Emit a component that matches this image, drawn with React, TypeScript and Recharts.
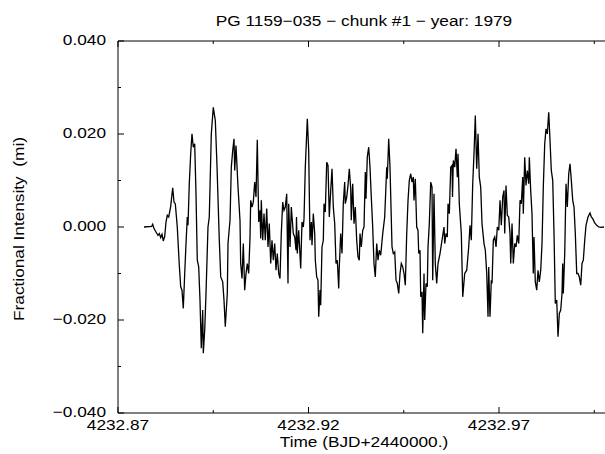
import React from "react";
import { LineChart, Line, XAxis, YAxis } from "recharts";

const title = "PG 1159\u2212035 \u2212 chunk #1 \u2212 year: 1979";
const xTitle = "Time (BJD+2440000.)";
const yTitle = "Fractional Intensity  (mi)";

const xDomain = [4232.87, 4233.0];
const xTicks = [4232.87, 4232.895, 4232.92, 4232.945, 4232.97, 4232.995];
const xLabelled = [4232.87, 4232.92, 4232.97];
const yDomain = [-0.04, 0.04];
const yTicks = [-0.04, -0.03, -0.02, -0.01, 0, 0.01, 0.02, 0.03, 0.04];
const yLabelled = [-0.04, -0.02, 0, 0.02, 0.04];

// BJD - 2440000
const time = [
  4232.87682, 4232.87885, 4232.87911, 4232.87945, 4232.87997, 4232.8805, 4232.88084, 4232.88121,
  4232.88155, 4232.88189, 4232.88226, 4232.8826, 4232.88294, 4232.88331, 4232.88383, 4232.88436,
  4232.8847, 4232.88504, 4232.88556, 4232.88609, 4232.88646, 4232.8868, 4232.88714, 4232.88751,
  4232.88785, 4232.88819, 4232.88837, 4232.88871, 4232.88908, 4232.88942, 4232.88976, 4232.89013,
  4232.89047, 4232.89081, 4232.89118, 4232.89152, 4232.89186, 4232.89223, 4232.89239, 4232.89276,
  4232.8931, 4232.89362, 4232.89396, 4232.89449, 4232.89501, 4232.89554, 4232.89598, 4232.89659,
  4232.89696, 4232.89748, 4232.89782, 4232.89816, 4232.89869, 4232.89887, 4232.8994, 4232.89974,
  4232.90011, 4232.90045, 4232.90063, 4232.90097, 4232.9015, 4232.90202, 4232.9022, 4232.90255,
  4232.90289, 4232.90325, 4232.9036, 4232.90394, 4232.9043, 4232.90465, 4232.90483, 4232.90517,
  4232.90551, 4232.90588, 4232.90622, 4232.90656, 4232.90693, 4232.90727, 4232.90746, 4232.90761,
  4232.90798, 4232.90832, 4232.90866, 4232.90903, 4232.90937, 4232.90971, 4232.91008, 4232.91042,
  4232.91076, 4232.91113, 4232.91147, 4232.91181, 4232.91218, 4232.91252, 4232.91286, 4232.91323,
  4232.91357, 4232.91391, 4232.91428, 4232.91462, 4232.9148, 4232.91515, 4232.91549, 4232.91601,
  4232.91638, 4232.91672, 4232.91685, 4232.91706, 4232.91743, 4232.91795, 4232.91829, 4232.91864,
  4232.91882, 4232.91916, 4232.91969, 4232.92005, 4232.92039, 4232.92074, 4232.92092, 4232.92126,
  4232.92163, 4232.92179, 4232.92215, 4232.92249, 4232.92268, 4232.92302, 4232.9232, 4232.92354,
  4232.92389, 4232.92407, 4232.92441, 4232.92478, 4232.92512, 4232.92546, 4232.92583, 4232.92617,
  4232.92651, 4232.92688, 4232.92722, 4232.92756, 4232.92793, 4232.92808, 4232.92845, 4232.92879,
  4232.92913, 4232.9295, 4232.92966, 4232.93003, 4232.93037, 4232.93071, 4232.93108, 4232.93123,
  4232.9316, 4232.93194, 4232.93228, 4232.93265, 4232.93299, 4232.93333, 4232.93352, 4232.93386,
  4232.93423, 4232.93457, 4232.93491, 4232.93509, 4232.93543, 4232.9358, 4232.93614, 4232.93648,
  4232.93685, 4232.93719, 4232.93753, 4232.9379, 4232.93824, 4232.93858, 4232.93895, 4232.93948,
  4232.94, 4232.94053, 4232.94068, 4232.94105, 4232.94139, 4232.94192, 4232.94226, 4232.94263,
  4232.94297, 4232.94331, 4232.94368, 4232.94402, 4232.94436, 4232.94473, 4232.94507, 4232.94541,
  4232.94578, 4232.94612, 4232.94646, 4232.94683, 4232.94717, 4232.94751, 4232.94769, 4232.94803,
  4232.9484, 4232.94874, 4232.94893, 4232.94927, 4232.94945, 4232.94979, 4232.94998, 4232.95032,
  4232.9505, 4232.95084, 4232.95118, 4232.95137, 4232.95171, 4232.95208, 4232.95242, 4232.9526,
  4232.95294, 4232.95328, 4232.95365, 4232.95399, 4232.95452, 4232.95504, 4232.95557, 4232.95575,
  4232.95609, 4232.95643, 4232.95662, 4232.95696, 4232.95733, 4232.95767, 4232.9578, 4232.95801,
  4232.95838, 4232.95872, 4232.95906, 4232.95924, 4232.95958, 4232.96011, 4232.96048, 4232.961,
  4232.96153, 4232.96205, 4232.96239, 4232.96273, 4232.9631, 4232.96344, 4232.96378, 4232.96415,
  4232.96449, 4232.96483, 4232.9652, 4232.96554, 4232.96607, 4232.96641, 4232.96678, 4232.96712,
  4232.9673, 4232.96764, 4232.96798, 4232.96817, 4232.96851, 4232.96888, 4232.96922, 4232.96956,
  4232.96993, 4232.97027, 4232.97061, 4232.97098, 4232.97132, 4232.9715, 4232.97184, 4232.97218,
  4232.97255, 4232.97289, 4232.97308, 4232.97342, 4232.97376, 4232.97413, 4232.97447, 4232.97481,
  4232.97518, 4232.97552, 4232.97586, 4232.97623, 4232.97638, 4232.97675, 4232.97709, 4232.97743,
  4232.9778, 4232.97796, 4232.97832, 4232.97866, 4232.979, 4232.97919, 4232.97953, 4232.9799,
  4232.98024, 4232.98058, 4232.98095, 4232.98129, 4232.98163, 4232.982, 4232.98234, 4232.98268,
  4232.98305, 4232.98339, 4232.98373, 4232.9841, 4232.98444, 4232.98478, 4232.98515, 4232.98549,
  4232.98583, 4232.9862, 4232.98654, 4232.98672, 4232.98688, 4232.98725, 4232.98759, 4232.98793,
  4232.9883, 4232.98864, 4232.98898, 4232.98935, 4232.98969, 4232.99003, 4232.9904, 4232.99074,
  4232.99108, 4232.99145, 4232.99179, 4232.99213, 4232.9925, 4232.99284, 4232.99336, 4232.99389,
  4232.99423, 4232.9946, 4232.99512, 4232.99565, 4232.99617, 4232.99685, 4232.99756,
];

const intensity = [
  0, 0.00015, 0.00058, -0.00034, -0.00107, -0.00178, -0.00142, -0.00227,
  -0.00157, -0.003, -0.00199, 0.00107, 0.00251, 0.00215, 0.00444, 0.00845,
  0.00536, 0.00502, 0, -0.00822, -0.01287, -0.01358, -0.0175, -0.01,
  -0.00356, 0.00215, 0.00036, 0.00931, 0.01574, 0.02003, 0.01716, 0.01789,
  0.00716, -0.00714, -0.00858, -0.01572, -0.02608, -0.01787, -0.02716, -0.02216,
  -0.01429, 0, 0.00215, 0.02003, 0.02574, 0.02289, 0.01323, -0.00285,
  -0.01073, -0.0118, -0.01572, -0.02145, -0.01429, -0.00356, 0.00144, 0.01287,
  0.01645, 0.01896, 0.01216, 0.01752, 0.00858, 0.00144, -0.00785, -0.01107,
  -0.00356, -0.01358, -0.01, -0.00785, -0.01, -0.00215, 0.00573, 0.00429,
  0.00536, 0.00965, 0.00644, 0.01875, 0.00107, 0.00358, -0.00249, 0.00573,
  -0.00285, 0.00287, -0.00285, 0.00395, -0.00429, 0.00073, -0.00785, -0.00285,
  -0.00714, -0.00356, -0.00929, -0.00571, -0.01, -0.01107, -0.00142, 0.00536,
  0.00358, 0.00429, 0.00716, -0.01214, 0.00502, -0.00429, 0.00429, -0.00142,
  -0.00215, -0.005, 0.00215, -0.00571, -0.00071, -0.00892, 0.00107, 0,
  0.0018, 0.01287, 0.02325, 0.01645, -0.00285, 0.00107, -0.00393, 0.00287,
  -0.00142, -0.00714, -0.01073, -0.01143, -0.01931, -0.01358, -0.0168, -0.00429,
  -0.00285, 0.00502, 0.00322, 0.01394, 0.01323, 0.00215, 0.00787, 0.01253,
  0.00429, 0.00073, -0.00785, -0.00714, -0.01321, -0.00858, -0.00142, -0.00571,
  0.00502, 0.00965, 0.00502, 0.00644, 0.00894, 0.01253, 0.00824, 0.00144,
  0.00931, 0.00073, 0.00429, -0.00285, -0.00644, -0.00714, -0.00142, -0.00429,
  -0.00071, 0, 0.0118, 0.00609, 0.01502, 0.01716, 0.01287, 0.00644,
  0, -0.00785, -0.01073, -0.00356, -0.00714, -0.005, -0.00607, -0.00142,
  0.00215, 0.01287, 0.01038, 0.01896, 0.01287, -0.00429, -0.00571, -0.00536,
  -0.01143, -0.01214, -0.01429, -0.01, -0.00785, -0.00858, -0.01, -0.01251,
  -0.00142, 0.00573, 0.01002, 0.01145, 0.00965, 0.01073, 0.00573, 0.01038,
  0, -0.00071, -0.00571, -0.005, -0.01502, -0.01394, -0.02287, -0.01,
  -0.02001, -0.01214, -0.01287, -0.00429, 0.00073, 0.00965, 0.00858, -0.01143,
  0.00716, -0.00785, -0.01214, -0.00785, -0.00571, -0.00285, 0, -0.00356,
  -0.00142, -0.00215, 0.00502, 0.00287, 0.01287, 0.01323, 0.00644, 0.01431,
  0.01287, 0.01682, 0.01073, 0.01574, 0.00502, -0.00142, -0.01502, -0.01,
  -0.00929, -0.00429, 0.00036, -0.00285, 0.00931, 0.01574, 0.02396, 0.01253,
  0.02003, 0.01073, 0.00858, 0.00073, -0.00356, -0.005, -0.01, -0.01931,
  -0.00858, -0.01931, -0.01143, -0.01214, -0.00285, -0.00215, -0.00429, 0,
  -0.00071, 0.00573, 0.00036, 0.00644, 0.00787, -0.00142, 0.00894, 0.00251,
  0.00215, -0.00142, -0.00785, 0.00073, -0.00785, -0.00356, -0.00429, -0.00178,
  -0.00356, 0.00573, 0.00502, 0.01073, 0.00287, 0.01502, 0.00894, 0.01216,
  0.00931, 0.01502, 0.00787, 0.00287, -0.01, -0.00215, -0.0118, -0.01358,
  -0.00929, -0.0118, -0.00929, -0.00356, 0.00858, 0.01789, 0.02111, 0.02003,
  0.02467, 0.0186, 0.01216, 0.01002, -0.00142, -0.01643, -0.01572, -0.0236,
  -0.01858, -0.01787, -0.01429, -0.00785, -0.01429, -0.00571, 0.00931, 0.00429,
  0.01145, 0.0136, 0.01002, 0.00573, 0.00429, -0.00142, -0.01, -0.01,
  -0.01073, -0.01251, -0.00785, -0.00714, -0.00285, 0.00036, 0.00215, 0.003,
  0.00215, 0.0018, 0.00086, 0.00036, 0, -0.00006, 0,
];

const data = time.map((t, i) => ({ t, v: intensity[i] }));

const FONT = '"Liberation Sans", Arial, Helvetica, sans-serif';

// the reference lettering is a bit wider than Liberation Sans
function Txt({ x, y, anchor = "middle", rotate = false, children }: any) {
  return (
    <text
      transform={`translate(${x},${y})${rotate ? " rotate(-90)" : ""} scale(1.15,1)`}
      textAnchor={anchor}
      fontFamily={FONT}
      fontSize={15}
      fill="#000"
      style={{ whiteSpace: "pre" }}
    >
      {children}
    </text>
  );
}

const isIn = (list: number[], v: number) => list.some((u) => Math.abs(u - v) < 1e-6);
const fmtY = (v: number) => (v < -1e-9 ? "\u2212" : "") + Math.abs(v).toFixed(3);

function LeftTick({ x, y, payload }: any) {
  const major = isIn(yLabelled, payload.value);
  return (
    <g>
      <line x1={x} x2={x + (major ? 6 : 3)} y1={y} y2={y} stroke="#000" />
      {major && <Txt x={x - 12} y={y + 4} anchor="end">{fmtY(payload.value)}</Txt>}
    </g>
  );
}

function RightTick({ x, y }: any) {
  return <line x1={x} x2={x - 9} y1={y} y2={y} stroke="#000" />;
}

function BottomTick({ x, y, payload }: any) {
  const major = isIn(xLabelled, payload.value);
  return (
    <g>
      <line x1={x} x2={x} y1={y} y2={y - (major ? 6 : 3)} stroke="#000" />
      {major && <Txt x={x} y={y + 17}>{payload.value.toFixed(2)}</Txt>}
    </g>
  );
}

function TopTick({ x, y, payload }: any) {
  const major = isIn(xLabelled, payload.value);
  return <line x1={x} x2={x} y1={y} y2={y + (major ? 6 : 3)} stroke="#000" />;
}

export default function App() {
  return (
    <div style={{ position: "absolute", left: 0, top: 0, width: 605, height: 454, overflow: "hidden", background: "#fff" }}>
      <LineChart width={630} height={454} data={data} margin={{ top: 40, right: 15.7, bottom: 0, left: 58 }}>
        <XAxis
          xAxisId="b"
          type="number"
          dataKey="t"
          domain={xDomain}
          ticks={xTicks}
          interval={0}
          height={41}
          tickSize={0}
          tickMargin={0}
          tickLine={false}
          tick={<BottomTick />}
          axisLine={{ stroke: "#000" }}
          label={() => <Txt x={364} y={447}>{xTitle}</Txt>}
        />
        <XAxis
          xAxisId="t"
          orientation="top"
          type="number"
          dataKey="t"
          domain={xDomain}
          ticks={xTicks}
          interval={0}
          height={1}
          tickSize={0}
          tickMargin={0}
          tickLine={false}
          tick={<TopTick />}
          axisLine={{ stroke: "#000" }}
          label={() => <Txt x={364} y={26}>{title}</Txt>}
        />
        <YAxis
          yAxisId="l"
          type="number"
          domain={yDomain}
          ticks={yTicks}
          interval={0}
          width={60}
          tickSize={0}
          tickMargin={0}
          tickLine={false}
          tick={<LeftTick />}
          axisLine={{ stroke: "#000" }}
          label={() => <Txt x={24} y={229} rotate>{yTitle}</Txt>}
        />
        <YAxis
          yAxisId="r"
          orientation="right"
          type="number"
          domain={yDomain}
          ticks={yLabelled}
          interval={0}
          width={1}
          tickSize={0}
          tickMargin={0}
          tickLine={false}
          tick={<RightTick />}
          axisLine={{ stroke: "#000" }}
        />
        <Line
          xAxisId="b"
          yAxisId="l"
          type="linear"
          dataKey="v"
          stroke="#000"
          strokeWidth={1.3}
          dot={false}
          isAnimationActive={false}
        />
      </LineChart>
    </div>
  );
}
